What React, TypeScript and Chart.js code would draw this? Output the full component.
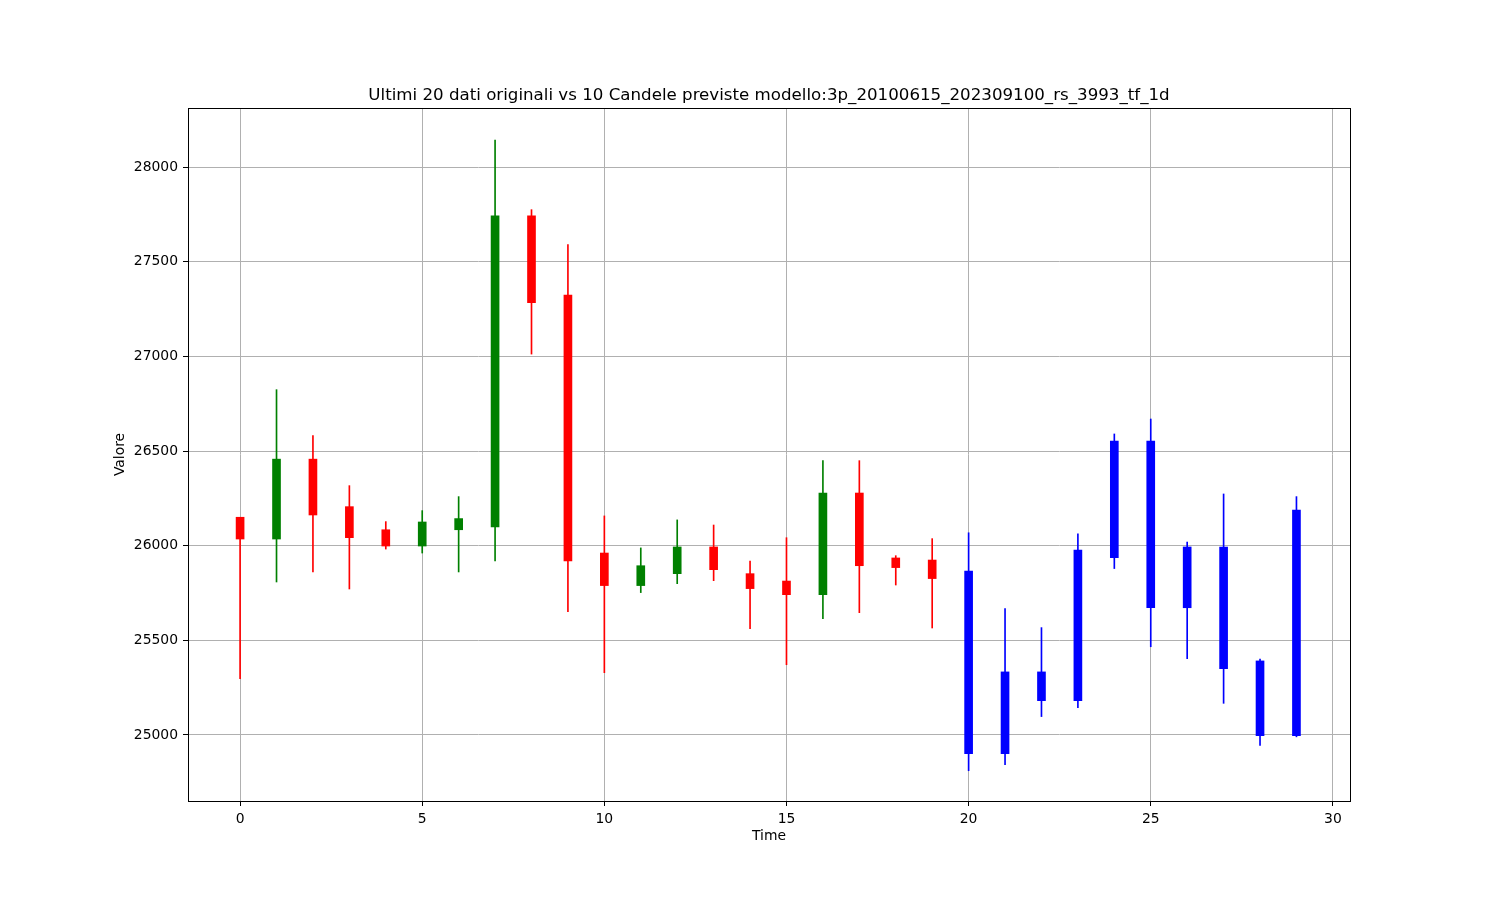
import React, { useEffect, useRef } from "react";
import { Chart, registerables } from "chart.js";

Chart.register(...registerables);

// ---- Data ----
const times = [0, 1, 2, 3, 4, 5, 6, 7, 8, 9, 10, 11, 12, 13, 14, 15, 16, 17, 18, 19, 20, 21, 22, 23, 24, 25, 26, 27, 28, 29];
const opens = [26150, 26035, 26457, 26206, 26084, 25998, 26084, 26099, 27743, 27324, 25961, 25789, 25852, 25993, 25852, 25813, 25741, 26278, 25935, 25924, 25866, 24901, 25333, 25181, 25937, 26553, 25672, 25993, 25391, 24996];
const highs = [26150, 26824, 26581, 26317, 26127, 26185, 26259, 28143, 27775, 27590, 26157, 25988, 26136, 26109, 25919, 26042, 26449, 26449, 25947, 26037, 26068, 25667, 25567, 26062, 26590, 26669, 26019, 26273, 25401, 26259];
const lows = [25297, 25808, 25861, 25771, 25982, 25961, 25861, 25919, 27012, 25651, 25329, 25752, 25799, 25815, 25561, 25371, 25614, 25646, 25792, 25565, 24811, 24843, 25097, 25144, 25879, 25466, 25403, 25167, 24944, 24990];
const closes = [26035, 26457, 26162, 26042, 25998, 26125, 26143, 27743, 27283, 25919, 25789, 25894, 25993, 25873, 25773, 25741, 26278, 25894, 25884, 25826, 24901, 25333, 25181, 25977, 26553, 25672, 25993, 25350, 24996, 26188];
const originalCount = 20;
const xTicks = [0, 5, 10, 15, 20, 25, 30];
const yTicks = [25000, 25500, 26000, 26500, 27000, 27500, 28000];

const titleText = "Ultimi 20 dati originali vs 10 Candele previste modello:3p_20100615_202309100_rs_3993_tf_1d";

const UP = "#008000";
const DOWN = "#ff0000";
const PRED = "#0000ff";

const colors = times.map((_, i) =>
  i >= originalCount ? PRED : closes[i] >= opens[i] ? UP : DOWN
);

const boxPlugin = {
  id: "frameBox",
  afterDraw(chart: any) {
    const { ctx, chartArea } = chart;
    ctx.save();
    ctx.strokeStyle = "#000000";
    ctx.lineWidth = 1;
    ctx.strokeRect(
      Math.round(chartArea.left) + 0.5,
      Math.round(chartArea.top) + 0.5,
      Math.round(chartArea.right - chartArea.left),
      Math.round(chartArea.bottom - chartArea.top)
    );
    ctx.restore();
  },
};

export default function App() {
  const canvasRef = useRef<HTMLCanvasElement | null>(null);

  useEffect(() => {
    if (!canvasRef.current) return;
    Chart.defaults.font.family = "'DejaVu Sans', sans-serif";
    Chart.defaults.color = "#000000";

    const chart = new Chart(canvasRef.current, {
      type: "bar",
      data: {
        datasets: [
          {
            label: "wick",
            data: times.map((t, i) => ({ x: t, y: [lows[i], highs[i]] })) as any,
            backgroundColor: colors,
            borderWidth: 0,
            barThickness: 1,
            grouped: false,
            order: 2,
          } as any,
          {
            label: "body",
            data: times.map((t, i) => ({ x: t, y: [opens[i], closes[i]] })) as any,
            backgroundColor: colors,
            borderWidth: 0,
            barThickness: 8,
            grouped: false,
            order: 1,
          } as any,
        ],
      },
      options: {
        responsive: false,
        animation: false,
        layout: { padding: { left: 0, right: 150, top: 0, bottom: 0 } },
        plugins: {
          legend: { display: false },
          tooltip: { enabled: false },
          title: {
            display: true,
            fullSize: false,
            text: titleText,
            font: { size: 16.67, weight: "normal" },
            color: "#000000",
            padding: { top: 86, bottom: 2 },
          },
        },
        scales: {
          x: {
            type: "linear",
            min: -1.43,
            max: 30.47,
            offset: false,
            afterBuildTicks: (scale: any) => {
              scale.ticks = xTicks.map((v) => ({ value: v }));
            },
            afterFit: (scale: any) => {
              scale.height = 99;
            },
            ticks: {
              font: { size: 13.9 },
              color: "#000000",
              padding: 5,
              maxRotation: 0,
              autoSkip: false,
              callback: (v: any) => String(v),
            },
            grid: {
              offset: false,
              color: "#b0b0b0",
              lineWidth: 1,
              tickColor: "#000000",
              tickLength: 5,
              drawOnChartArea: true,
            },
            border: { display: false },
            title: {
              display: true,
              text: "Time",
              font: { size: 13.9 },
              color: "#000000",
              padding: { top: 0, bottom: 55.6 },
            },
          },
          y: {
            type: "linear",
            min: 24651,
            max: 28312,
            afterBuildTicks: (scale: any) => {
              scale.ticks = yTicks.map((v) => ({ value: v }));
            },
            afterFit: (scale: any) => {
              scale.width = 188;
            },
            ticks: {
              font: { size: 13.9 },
              color: "#000000",
              padding: 5,
              callback: (v: any) => String(v),
            },
            grid: {
              color: "#b0b0b0",
              lineWidth: 1,
              tickColor: "#000000",
              tickLength: 5,
            },
            border: { display: false },
            title: {
              display: true,
              text: "Valore",
              font: { size: 13.9 },
              color: "#000000",
              padding: { top: 111.6, bottom: 0 },
            },
          },
        },
      } as any,
      plugins: [boxPlugin],
    });

    return () => chart.destroy();
  }, []);

  return (
    <div
      style={{
        position: "fixed",
        left: 0,
        top: 0,
        width: 1500,
        height: 900,
        background: "#ffffff",
      }}
    >
      <canvas ref={canvasRef} width={1500} height={900} />
    </div>
  );
}
